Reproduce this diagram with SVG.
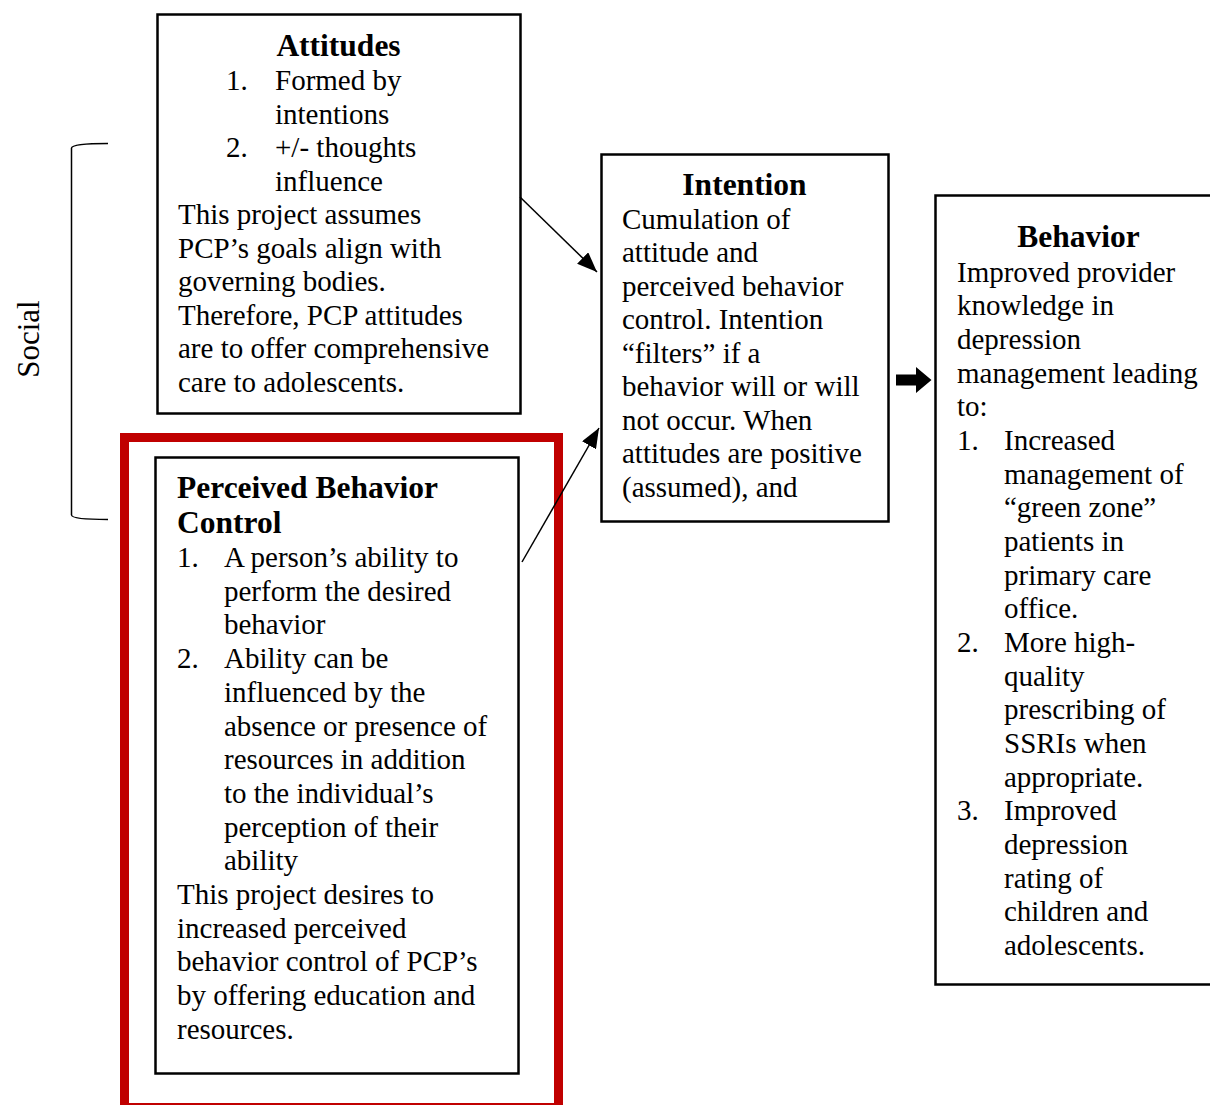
<svg xmlns="http://www.w3.org/2000/svg" width="1210" height="1105" viewBox="0 0 1210 1105">
<style>
.box{fill:#fff;stroke:#000;stroke-width:2.5}
.t{font-family:"Liberation Serif","Times New Roman",serif;font-size:29px;fill:#000}
.h{font-family:"Liberation Serif","Times New Roman",serif;font-size:31.5px;font-weight:bold;fill:#000}
.c{text-anchor:middle}
.conn{stroke:#000;stroke-width:1.5;fill:none}
</style>
<defs>
<marker id="ah2" viewBox="0 0 20 16" refX="20" refY="8" markerWidth="20" markerHeight="16" markerUnits="userSpaceOnUse" orient="auto">
<path d="M0,0 L20,8 L0,16 z" fill="#000"/>
</marker>
</defs>
<rect width="1210" height="1105" fill="#fff"/>

<g id="social">
<path d="M108,143.5 Q72,143.5 71.5,148 L71.5,515 Q72,519.5 108,519.5" fill="none" stroke="#000" stroke-width="1.5"/>
<text class="t c" transform="translate(38.5,339) rotate(-90)" style="font-size:31px">Social</text>
</g>

<g id="attitudes">
<rect class="box" x="157.5" y="14.5" width="363" height="399"/>
<text class="h c" x="338.5" y="55.5">Attitudes</text>
<text class="t" x="226" y="90">1.</text>
<text class="t" x="275" y="90">Formed by</text>
<text class="t" x="275" y="123.5">intentions</text>
<text class="t" x="226" y="157">2.</text>
<text class="t" x="275" y="157">+/- thoughts</text>
<text class="t" x="275" y="190.5">influence</text>
<text class="t" x="178" y="224">This project assumes</text>
<text class="t" x="178" y="257.5">PCP’s goals align with</text>
<text class="t" x="178" y="291">governing bodies.</text>
<text class="t" x="178" y="324.5">Therefore, PCP attitudes</text>
<text class="t" x="178" y="358">are to offer comprehensive</text>
<text class="t" x="178" y="391.5">care to adolescents.</text>
</g>

<g id="highlight">
<rect x="124.5" y="437.5" width="434" height="670" fill="none" stroke="#C00000" stroke-width="9"/>
</g>

<g id="pbc">
<rect class="box" x="155.5" y="457.5" width="363" height="616"/>
<text class="h" x="177" y="497.5">Perceived Behavior</text>
<text class="h" x="177" y="533">Control</text>
<text class="t" x="177" y="567">1.</text>
<text class="t" x="224" y="567">A person’s ability to</text>
<text class="t" x="224" y="600.7">perform the desired</text>
<text class="t" x="224" y="634.4">behavior</text>
<text class="t" x="177" y="668.1">2.</text>
<text class="t" x="224" y="668.1">Ability can be</text>
<text class="t" x="224" y="701.8">influenced by the</text>
<text class="t" x="224" y="735.5">absence or presence of</text>
<text class="t" x="224" y="769.2">resources in addition</text>
<text class="t" x="224" y="802.9">to the individual’s</text>
<text class="t" x="224" y="836.6">perception of their</text>
<text class="t" x="224" y="870.3">ability</text>
<text class="t" x="177" y="904">This project desires to</text>
<text class="t" x="177" y="937.7">increased perceived</text>
<text class="t" x="177" y="971.4">behavior control of PCP’s</text>
<text class="t" x="177" y="1005.1">by offering education and</text>
<text class="t" x="177" y="1038.8">resources.</text>
</g>

<g id="intention">
<rect class="box" x="601.5" y="154.5" width="287" height="367"/>
<text class="h c" x="744.5" y="195">Intention</text>
<text class="t" x="622" y="228.5">Cumulation of</text>
<text class="t" x="622" y="262">attitude and</text>
<text class="t" x="622" y="295.5">perceived behavior</text>
<text class="t" x="622" y="329">control. Intention</text>
<text class="t" x="622" y="362.5">“filters” if a</text>
<text class="t" x="622" y="396">behavior will or will</text>
<text class="t" x="622" y="429.5">not occur. When</text>
<text class="t" x="622" y="463">attitudes are positive</text>
<text class="t" x="622" y="496.5">(assumed), and</text>
</g>

<g id="behavior">
<rect class="box" x="935.5" y="195.5" width="290" height="789"/>
<text class="h c" x="1078.5" y="247">Behavior</text>
<text class="t" x="957" y="281.5">Improved provider</text>
<text class="t" x="957" y="315.2">knowledge in</text>
<text class="t" x="957" y="348.8">depression</text>
<text class="t" x="957" y="382.5">management leading</text>
<text class="t" x="957" y="416.2">to:</text>
<text class="t" x="957" y="449.9">1.</text>
<text class="t" x="1004" y="449.9">Increased</text>
<text class="t" x="1004" y="483.5">management of</text>
<text class="t" x="1004" y="517.2">“green zone”</text>
<text class="t" x="1004" y="550.9">patients in</text>
<text class="t" x="1004" y="584.5">primary care</text>
<text class="t" x="1004" y="618.2">office.</text>
<text class="t" x="957" y="651.9">2.</text>
<text class="t" x="1004" y="651.9">More high-</text>
<text class="t" x="1004" y="685.5">quality</text>
<text class="t" x="1004" y="719.2">prescribing of</text>
<text class="t" x="1004" y="752.9">SSRIs when</text>
<text class="t" x="1004" y="786.5">appropriate.</text>
<text class="t" x="957" y="820.2">3.</text>
<text class="t" x="1004" y="820.2">Improved</text>
<text class="t" x="1004" y="853.9">depression</text>
<text class="t" x="1004" y="887.6">rating of</text>
<text class="t" x="1004" y="921.2">children and</text>
<text class="t" x="1004" y="954.9">adolescents.</text>
</g>

<g id="connectors">
<line class="conn" x1="520" y1="197" x2="597" y2="272" marker-end="url(#ah2)"/>
<line class="conn" x1="522" y1="562" x2="599" y2="428" marker-end="url(#ah2)"/>
<path d="M896,374.5 L916,374.5 L916,367 L931.5,380 L916,393 L916,385.5 L896,385.5 Z" fill="#000"/>
</g>
</svg>
